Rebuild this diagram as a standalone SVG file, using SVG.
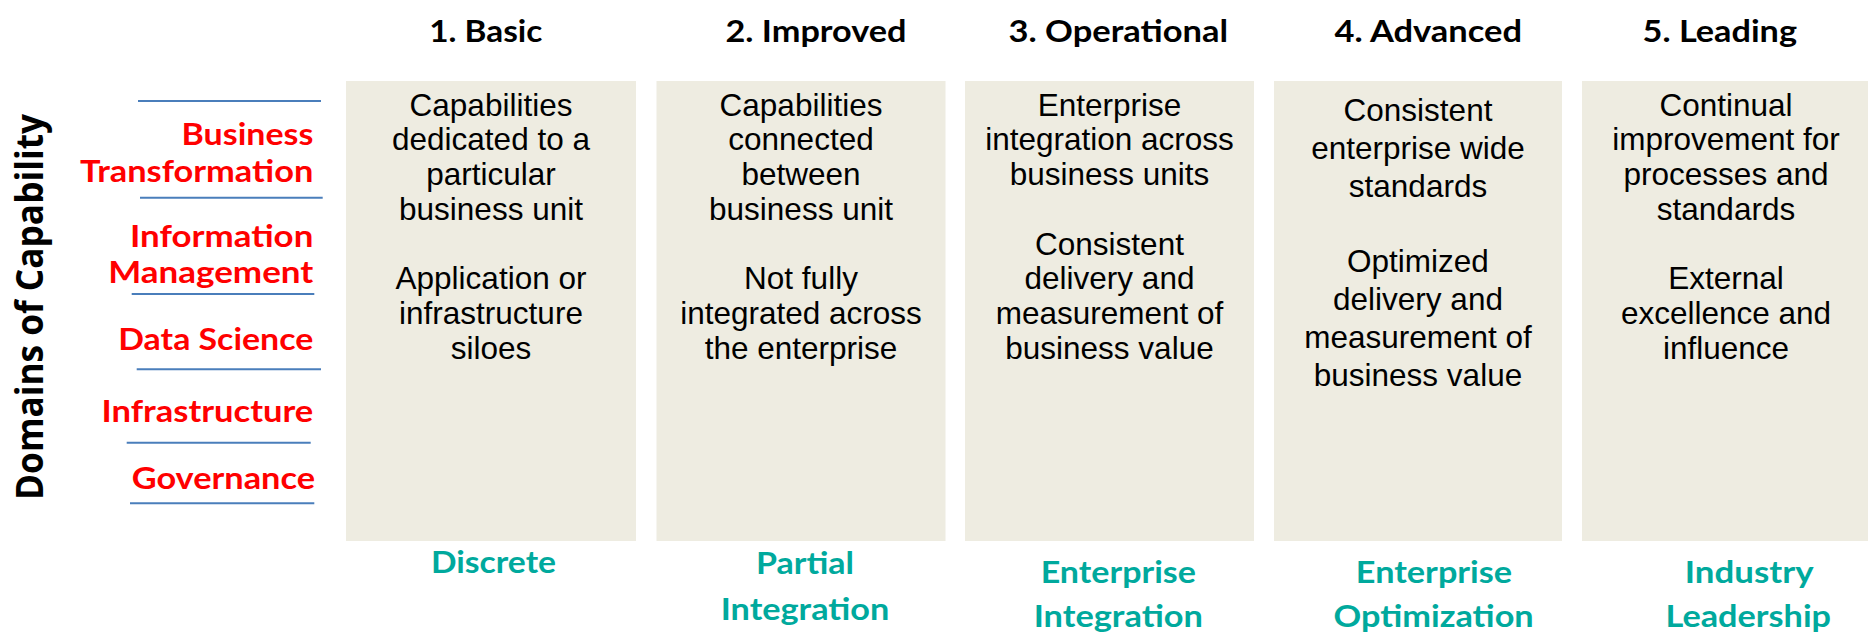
<svg xmlns="http://www.w3.org/2000/svg" width="1868" height="633" viewBox="0 0 1868 633">
<style>
.box{fill:#eeece1}
.body{font-family:"Liberation Sans",Arial,sans-serif;font-size:31.5px;fill:#000;text-anchor:middle}
.title{font-family:Lato,"Open Sans",sans-serif;font-weight:bold;font-size:31px;fill:#000;text-anchor:middle}
.stage{font-family:Lato,"Open Sans",sans-serif;font-weight:bold;font-size:31px;fill:#00a99d;text-anchor:middle}
.domain{font-family:Lato,"Open Sans",sans-serif;font-weight:bold;font-size:31px;fill:#ff0000;text-anchor:end}
.sep{stroke:#4a7ebb;stroke-width:2;fill:none}
.axis{font-family:"Open Sans","DejaVu Sans",sans-serif;font-weight:bold;font-size:38px;fill:#000}
</style>
<rect width="1868" height="633" fill="#ffffff"/>

<g id="axis-label">
<text class="axis" transform="translate(42.7,500) rotate(-90)" x="0" y="0" textLength="386" lengthAdjust="spacingAndGlyphs">Domains of Capability</text>
</g>

<g id="domains">
<g id="separators">
<line class="sep" x1="138" y1="101" x2="321" y2="101"/>
<line class="sep" x1="140" y1="197.7" x2="322.7" y2="197.7"/>
<line class="sep" x1="131.7" y1="294" x2="314.3" y2="294"/>
<line class="sep" x1="136.7" y1="369.3" x2="321" y2="369.3"/>
<line class="sep" x1="126.7" y1="442.7" x2="310.7" y2="442.7"/>
<line class="sep" x1="130" y1="503.3" x2="314.3" y2="503.3"/>
</g>
<g id="domain-business-transformation">
<text class="domain" x="313.3" y="145" textLength="131.7" lengthAdjust="spacingAndGlyphs">Business</text>
<text class="domain" x="313.3" y="181.7" textLength="233.3" lengthAdjust="spacingAndGlyphs">Transformation</text>
</g>
<g id="domain-information-management">
<text class="domain" x="313.3" y="246.7" textLength="183.3" lengthAdjust="spacingAndGlyphs">Information</text>
<text class="domain" x="313.3" y="283.3" textLength="205" lengthAdjust="spacingAndGlyphs">Management</text>
</g>
<g id="domain-data-science">
<text class="domain" x="313.3" y="350" textLength="195" lengthAdjust="spacingAndGlyphs">Data Science</text>
</g>
<g id="domain-infrastructure">
<text class="domain" x="313.3" y="421.7" textLength="211.7" lengthAdjust="spacingAndGlyphs">Infrastructure</text>
</g>
<g id="domain-governance">
<text class="domain" x="315" y="489.3" textLength="183.3" lengthAdjust="spacingAndGlyphs">Governance</text>
</g>
</g>

<g id="level-1">
<text class="title" x="485.8" y="41.7" textLength="113" lengthAdjust="spacingAndGlyphs">1. Basic</text>
<rect class="box" x="346" y="81" width="290" height="460"/>
<text class="body" x="491" y="115.7">Capabilities</text>
<text class="body" x="491" y="150.4">dedicated to a</text>
<text class="body" x="491" y="185.1">particular</text>
<text class="body" x="491" y="219.8">business unit</text>
<text class="body" x="491" y="289.2">Application or</text>
<text class="body" x="491" y="323.9">infrastructure</text>
<text class="body" x="491" y="358.6">siloes</text>
<text class="stage" x="493.5" y="573" textLength="125" lengthAdjust="spacingAndGlyphs">Discrete</text>
</g>

<g id="level-2">
<text class="title" x="816" y="41.7" textLength="181" lengthAdjust="spacingAndGlyphs">2. Improved</text>
<rect class="box" x="656.5" y="81" width="289" height="460"/>
<text class="body" x="801" y="115.7">Capabilities</text>
<text class="body" x="801" y="150.4">connected</text>
<text class="body" x="801" y="185.1">between</text>
<text class="body" x="801" y="219.8">business unit</text>
<text class="body" x="801" y="289.2">Not fully</text>
<text class="body" x="801" y="323.9">integrated across</text>
<text class="body" x="801" y="358.6">the enterprise</text>
<text class="stage" x="805" y="574.3" textLength="98" lengthAdjust="spacingAndGlyphs">Partial</text>
<text class="stage" x="805" y="620" textLength="168.6" lengthAdjust="spacingAndGlyphs">Integration</text>
</g>

<g id="level-3">
<text class="title" x="1118.3" y="41.7" textLength="219.5" lengthAdjust="spacingAndGlyphs">3. Operational</text>
<rect class="box" x="965" y="81" width="289" height="460"/>
<text class="body" x="1109.5" y="115.7">Enterprise</text>
<text class="body" x="1109.5" y="150.4">integration across</text>
<text class="body" x="1109.5" y="185.1">business units</text>
<text class="body" x="1109.5" y="254.5">Consistent</text>
<text class="body" x="1109.5" y="289.2">delivery and</text>
<text class="body" x="1109.5" y="323.9">measurement of</text>
<text class="body" x="1109.5" y="358.6">business value</text>
<text class="stage" x="1118.3" y="583" textLength="155.2" lengthAdjust="spacingAndGlyphs">Enterprise</text>
<text class="stage" x="1118.3" y="627" textLength="169.2" lengthAdjust="spacingAndGlyphs">Integration</text>
</g>

<g id="level-4">
<text class="title" x="1428.3" y="41.7" textLength="187.4" lengthAdjust="spacingAndGlyphs">4. Advanced</text>
<rect class="box" x="1274" y="81" width="288" height="460"/>
<text class="body" x="1418" y="121">Consistent</text>
<text class="body" x="1418" y="158.8">enterprise wide</text>
<text class="body" x="1418" y="196.6">standards</text>
<text class="body" x="1418" y="272.2">Optimized</text>
<text class="body" x="1418" y="310">delivery and</text>
<text class="body" x="1418" y="347.8">measurement of</text>
<text class="body" x="1418" y="385.6">business value</text>
<text class="stage" x="1434" y="583" textLength="156.3" lengthAdjust="spacingAndGlyphs">Enterprise</text>
<text class="stage" x="1433.6" y="627" textLength="200.2" lengthAdjust="spacingAndGlyphs">Optimization</text>
</g>

<g id="level-5">
<text class="title" x="1719.8" y="41.7" textLength="154.4" lengthAdjust="spacingAndGlyphs">5. Leading</text>
<rect class="box" x="1582" y="81" width="290" height="460"/>
<text class="body" x="1726" y="115.7">Continual</text>
<text class="body" x="1726" y="150.4">improvement for</text>
<text class="body" x="1726" y="185.1">processes and</text>
<text class="body" x="1726" y="219.8">standards</text>
<text class="body" x="1726" y="289.2">External</text>
<text class="body" x="1726" y="323.9">excellence and</text>
<text class="body" x="1726" y="358.6">influence</text>
<text class="stage" x="1749.2" y="583" textLength="128.8" lengthAdjust="spacingAndGlyphs">Industry</text>
<text class="stage" x="1748.3" y="627" textLength="165.5" lengthAdjust="spacingAndGlyphs">Leadership</text>
</g>
</svg>
